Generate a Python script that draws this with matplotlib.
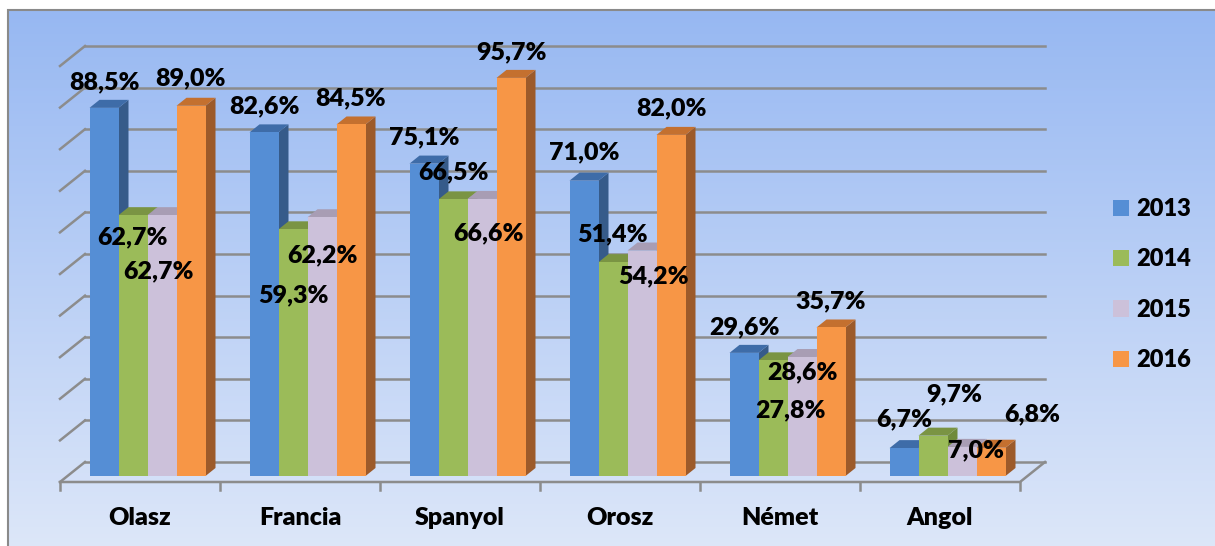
import numpy as np
import matplotlib
matplotlib.use("Agg")
import matplotlib.pyplot as plt
from matplotlib.patches import Polygon, Patch, Rectangle

plt.rcParams['font.family'] = ['Lato', 'DejaVu Sans']

#Adatok
nyelvek = ["Olasz", "Francia", "Spanyol", "Orosz", "Német", "Angol"]
evek = ["2013", "2014", "2015", "2016"]
ertek_2013 = [88.5, 82.6, 75.1, 71.0, 29.6, 6.7]
ertek_2014 = [62.7, 59.3, 66.5, 51.4, 27.8, 9.7]
ertek_2015 = [62.7, 62.2, 66.6, 54.2, 28.6, 7.0]
ertek_2016 = [89.0, 84.5, 95.7, 82.0, 35.7, 6.8]
sorozatok = [ertek_2013, ertek_2014, ertek_2015, ertek_2016]

#Színek: elülső, teteje, oldala
szinek = [("#558ED5", "#3E6CA8", "#365B8A"),
          ("#9BBB59", "#7A9443", "#6F8A3A"),
          ("#CCC1DA", "#A89DB4", "#9D93AB"),
          ("#F79646", "#C4702F", "#9C5A2A")]

#Felirat eltolások (pixel, x jobbra, y lefelé)
cimke_eltolas = [[(0, -26), (0, 22), (-4, 56), (0, -27)],
                 [(0, -26), (0, 66), (0, 38), (0, -26)],
                 [(0, -26), (0, -27), (7, 34), (0, -26)],
                 [(0, -28), (0, -28), (12, 26), (0, -27)],
                 [(0, -26), (17, 50), (0, 15), (0, -26)],
                 [(0, -29), (21, -41), (14, 3), (41, -33)]]

W, H = 1215, 546
fig = plt.figure(figsize=(W / 100, H / 100), dpi=100)
ax = fig.add_axes([0, 0, 1, 1])

# 1 kategória = 160 px, 1% = 4.16 px, alap vonal 482 px-nél
px_x, px_y, alap = 160.0, 4.16, 482.0
def px2x(p):
    return (p - 60) / px_x
def px2y(p):
    return (alap - p) / px_y

ax.set_xlim(px2x(0), px2x(W))
ax.set_ylim(px2y(H), px2y(0))
ax.axis("off")

#Háttér színátmenet
grad = np.linspace(0, 1, 256).reshape(-1, 1)
cmap = matplotlib.colors.LinearSegmentedColormap.from_list("bg", ["#97B8F2", "#DDE7F9"])
ax.imshow(grad, cmap=cmap, aspect="auto", zorder=0,
          extent=[px2x(8), px2x(W + 5), px2y(H + 5), px2y(10)])
ax.add_patch(Rectangle((px2x(8), px2y(H + 5)), px2x(W + 5) - px2x(8), px2y(10) - px2y(H + 5),
                       fill=False, edgecolor="#8A8A8A", linewidth=1.5, zorder=1))

#Rács
n = len(nyelvek)
fdx, fdy = 25 / px_x, 20 / px_y
racs = "#8C8C8C"
for v in range(0, 101, 10):
    ax.plot([fdx, n + fdx], [v + fdy, v + fdy], color=racs, lw=1.8, zorder=2)
    ax.plot([0, fdx], [v, v + fdy], color=racs, lw=1.8, zorder=2)
ax.plot([0, n, n + fdx], [0, 0, fdy], color=racs, lw=1.8, zorder=2)
for i in range(n + 1):
    ax.plot([i, i], [0, px2y(490)], color=racs, lw=1.8, zorder=2)

#Oszlopok
bw = 29 / px_x
res = 22 / px_x
bx0, by0 = 0.3 * fdx, 0.3 * fdy
bdx, bdy = 0.4 * fdx, 0.4 * fdy
z = 3
for i in range(n):
    for j, sor in enumerate(sorozatok):
        val = sor[i]
        x0 = i + res + j * bw + bx0
        y0 = by0
        y1 = by0 + val
        elol, teto, oldal = szinek[j]
        ax.add_patch(Polygon([(x0 + bw, y0), (x0 + bw + bdx, y0 + bdy), (x0 + bw + bdx, y1 + bdy), (x0 + bw, y1)],
                             closed=True, facecolor=oldal, edgecolor="none", zorder=z))
        ax.add_patch(Polygon([(x0, y1), (x0 + bw, y1), (x0 + bw + bdx, y1 + bdy), (x0 + bdx, y1 + bdy)],
                             closed=True, facecolor=teto, edgecolor="none", zorder=z))
        ax.add_patch(Rectangle((x0, y0), bw, val, facecolor=elol, edgecolor="none", zorder=z))
        z += 1

#Feliratok
suly = "heavy"
for i in range(n):
    for j, sor in enumerate(sorozatok):
        val = sor[i]
        cx = i + res + j * bw + bx0 + bw / 2
        cy = by0 + val
        dx, dy = cimke_eltolas[i][j]
        ax.annotate(f"{val:.1f}%".replace(".", ","), (cx, cy), xytext=(dx, -dy),
                    textcoords="offset pixels", ha="center", va="center",
                    fontsize=18, fontweight=suly, color="black", zorder=100)

for i, nyelv in enumerate(nyelvek):
    ax.text(i + 0.5, px2y(518), nyelv, ha="center", va="center",
            fontsize=18, fontweight=suly, color="black", zorder=100)

#Jelmagyarázat
kezelok = [Patch(facecolor=szinek[j][0], edgecolor="none") for j in range(4)]
fig.legend(kezelok, evek, loc="upper left", bbox_to_anchor=(1113 / W, 1 - 198 / H),
           frameon=False, prop={"weight": suly, "size": 17},
           handlelength=0.68, handleheight=0.68, handletextpad=0.3,
           labelspacing=1.2, borderpad=0, borderaxespad=0)

fig.savefig("out.png", dpi=100)
